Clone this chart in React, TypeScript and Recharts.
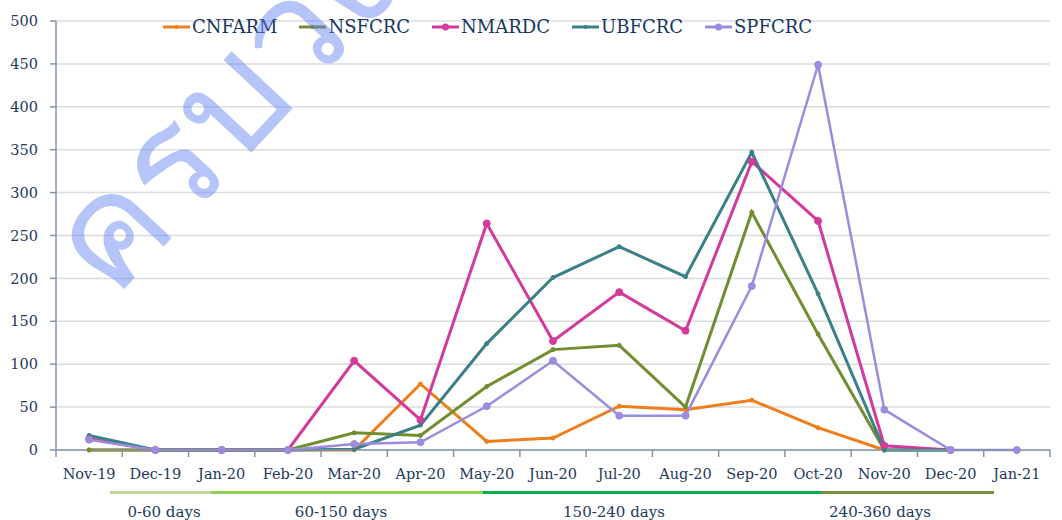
import { LineChart, Line, XAxis, YAxis, CartesianGrid } from 'recharts';

const months = ['Nov-19', 'Dec-19', 'Jan-20', 'Feb-20', 'Mar-20', 'Apr-20', 'May-20', 'Jun-20', 'Jul-20', 'Aug-20', 'Sep-20', 'Oct-20', 'Nov-20', 'Dec-20', 'Jan-21'];
const cnfarm = [0, 0, 0, 0, 0, 77, 10, 14, 51, 47, 58, 26, 0, null, null];
const nsfcrc = [0, 0, 0, 0, 20, 17, 74, 117, 122, 50, 277, 135, 0, 0, null];
const nmardc = [13, 0, 0, 0, 104, 35, 264, 127, 184, 139, 336, 267, 5, 0, null];
const ubfcrc = [17, 0, 0, 0, 1, 29, 124, 201, 237, 202, 347, 182, 0, 0, null];
const spfcrc = [12, 0, 0, 0, 7, 9, 51, 104, 40, 40, 191, 449, 47, 0, 0];
const yTicks = [0, 50, 100, 150, 200, 250, 300, 350, 400, 450, 500];
const periods = ['0-60 days', '60-150 days', '150-240 days', '240-360 days'];

const data = months.map((m, i) => ({
  month: m,
  CNFARM: cnfarm[i],
  NSFCRC: nsfcrc[i],
  NMARDC: nmardc[i],
  UBFCRC: ubfcrc[i],
  SPFCRC: spfcrc[i],
}));

const series = [
  { key: 'CNFARM', color: '#EE7F1A', r: 2, width: 3 },
  { key: 'NSFCRC', color: '#718E31', r: 2, width: 3 },
  { key: 'NMARDC', color: '#D23A9B', r: 3.5, width: 3 },
  { key: 'UBFCRC', color: '#3B8088', r: 2, width: 3 },
  { key: 'SPFCRC', color: '#9A8CDE', r: 3.5, width: 2.5 },
];

const FONT = '"DejaVu Serif", serif';
const TEXT = '#1E3A5C';
const AXIS = '#8295AA';
const W = 1062;
const H = 520;
const M = { top: 21, right: 12, left: 6, bottom: 40 };
const Y_W = 50;
const STEP = (W - M.left - M.right - Y_W) / months.length;

// period bars under the axis: left/right edge, colour, label centre
const bands = [
  { x1: 110, x2: 211, color: '#C3D69B', cx: 164 },
  { x1: 211, x2: 483, color: '#92D050', cx: 341 },
  { x1: 483, x2: 821, color: '#00B050', cx: 614 },
  { x1: 821, x2: 994, color: '#76923C', cx: 880 },
];

const XTick = (props: any) => {
  const { x, y, payload, index } = props;
  const last = index === months.length - 1;
  return (
    <g>
      <line x1={x - STEP / 2} x2={x - STEP / 2} y1={y} y2={y + 7} stroke={AXIS} strokeWidth={1.5} />
      {last && <line x1={x + STEP / 2} x2={x + STEP / 2} y1={y} y2={y + 7} stroke={AXIS} strokeWidth={1.5} />}
      <text x={x} y={y + 29} textAnchor="middle" fontSize={14.5} fontFamily={FONT} fill={TEXT}>
        {payload.value}
      </text>
    </g>
  );
};

const ChartLegend = () => (
  <div
    style={{
      position: 'absolute', left: 163, top: 14, display: 'flex', gap: 22,
      fontFamily: FONT, fontSize: 18, color: '#17375E', whiteSpace: 'nowrap', lineHeight: '26px',
    }}
  >
    {series.map((s) => (
      <div key={s.key} style={{ display: 'flex', alignItems: 'center' }}>
        <svg width={27} height={10} style={{ marginRight: 2 }}>
          <line x1={0} x2={27} y1={5} y2={5} stroke={s.color} strokeWidth={3} />
          <circle cx={13.5} cy={5} r={s.r} fill={s.color} />
        </svg>
        <span>{s.key}</span>
      </div>
    ))}
  </div>
);

export default function App() {
  return (
    <div style={{ position: 'absolute', left: 0, top: 0, width: W, height: H, background: '#fff', overflow: 'hidden' }}>
      <LineChart width={W} height={H} data={data} margin={M}>
        <CartesianGrid vertical={false} stroke="#DCDCDC" strokeWidth={1.5} />
        <XAxis
          dataKey="month"
          padding={{ left: STEP / 2, right: STEP / 2 }}
          tickLine={false}
          tickSize={0}
          tickMargin={0}
          axisLine={{ stroke: AXIS, strokeWidth: 1.5 }}
          tick={<XTick />}
          interval={0}
          height={30}
        />
        <YAxis
          width={Y_W}
          domain={[0, 500]}
          ticks={yTicks}
          interval={0}
          tickSize={6}
          tickMargin={12}
          axisLine={{ stroke: AXIS, strokeWidth: 1.5 }}
          tickLine={{ stroke: AXIS, strokeWidth: 1.5 }}
          tick={{ fontSize: 14.5, fontFamily: FONT, fill: TEXT }}
        />
        {series.map((s) => (
          <Line
            key={s.key}
            dataKey={s.key}
            stroke={s.color}
            strokeWidth={s.width}
            dot={{ r: s.r, fill: s.color, stroke: s.color, strokeWidth: 1 }}
            activeDot={false}
            isAnimationActive={false}
          />
        ))}
      </LineChart>
      <ChartLegend />
      {bands.map((b, i) => (
        <div key={periods[i]}>
          <div style={{ position: 'absolute', left: b.x1, width: b.x2 - b.x1, top: 491, height: 3, background: b.color }} />
          <div style={{ position: 'absolute', left: b.cx - 70, width: 140, top: 503, textAlign: 'center', fontFamily: FONT, fontSize: 15, color: TEXT }}>
            {periods[i]}
          </div>
        </div>
      ))}
      <svg width={W} height={H} style={{ position: 'absolute', left: 0, top: 0, pointerEvents: 'none' }}>
        <text
          x={0}
          y={0}
          transform="translate(112 302) rotate(-47)"
          fontSize={150}
          fontFamily='"Noto Sans", "DejaVu Sans", sans-serif'
          fill="#5B7FF2"
          fillOpacity={0.45}
        >
          ครบวงจร
        </text>
      </svg>
    </div>
  );
}
